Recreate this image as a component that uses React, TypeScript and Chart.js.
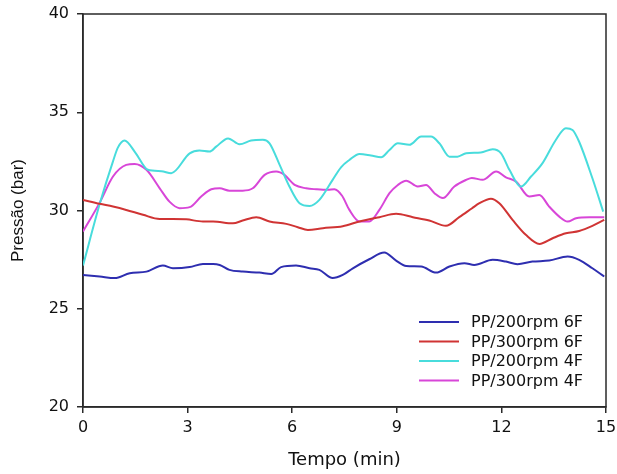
import React, { useEffect, useRef } from "react";
import { Chart, registerables } from "chart.js";

Chart.register(...registerables);

const seriesLabels = ["PP/200rpm 6F", "PP/300rpm 6F", "PP/200rpm 4F", "PP/300rpm 4F"];
const seriesColors = ["#2e2eb0", "#d03434", "#48dcdc", "#d846d8"];

const blueT = [0, 0.48, 0.91, 1.34, 1.82, 2.29, 2.58, 3.06, 3.44, 3.73, 3.92, 4.2, 4.58, 5.06, 5.4, 5.68, 6.11, 6.5, 6.78, 7.16, 7.45, 7.74, 8.21, 8.64, 8.98, 9.27, 9.7, 10.13, 10.51, 10.94, 11.22, 11.75, 12.13, 12.46, 12.89, 13.37, 13.9, 14.23, 14.61, 14.95];
const blueV = [26.72, 26.64, 26.56, 26.81, 26.89, 27.2, 27.06, 27.12, 27.28, 27.28, 27.23, 26.98, 26.89, 26.84, 26.77, 27.12, 27.2, 27.06, 26.98, 26.56, 26.72, 27.06, 27.52, 27.86, 27.45, 27.18, 27.15, 26.84, 27.15, 27.32, 27.23, 27.49, 27.4, 27.27, 27.4, 27.45, 27.66, 27.49, 27.06, 26.64];

const redT = [0, 0.48, 0.86, 1.24, 1.72, 2.2, 2.58, 2.96, 3.44, 3.73, 4.3, 4.58, 4.97, 5.35, 5.83, 6.16, 6.45, 6.88, 7.45, 7.93, 8.5, 8.98, 9.46, 9.93, 10.41, 10.79, 11.15, 11.37, 11.7, 11.94, 12.32, 12.7, 13.09, 13.47, 13.85, 14.23, 14.61, 14.95];
const redV = [30.54, 30.34, 30.2, 30.03, 29.78, 29.57, 29.57, 29.55, 29.44, 29.44, 29.35, 29.49, 29.66, 29.44, 29.32, 29.15, 29.01, 29.1, 29.2, 29.44, 29.66, 29.83, 29.66, 29.49, 29.22, 29.66, 30.1, 30.37, 30.6, 30.37, 29.52, 28.76, 28.3, 28.59, 28.84, 28.96, 29.22, 29.52];

const cyanT = [0, 0.48, 0.86, 1.0, 1.19, 1.5, 1.86, 2.25, 2.53, 3.06, 3.34, 3.63, 3.82, 4.16, 4.49, 4.82, 5.16, 5.35, 5.64, 5.92, 6.21, 6.5, 6.78, 7.16, 7.4, 7.64, 7.93, 8.26, 8.55, 8.79, 9.03, 9.36, 9.7, 9.98, 10.22, 10.51, 10.74, 10.99, 11.41, 11.75, 11.99, 12.23, 12.56, 12.85, 13.18, 13.56, 13.85, 14.04, 14.23, 14.61, 14.92];
const cyanV = [27.2, 30.34, 32.5, 33.2, 33.56, 32.95, 32.07, 32.0, 31.9, 32.91, 33.05, 33.0, 33.25, 33.67, 33.37, 33.56, 33.6, 33.42, 32.32, 31.22, 30.37, 30.23, 30.54, 31.56, 32.2, 32.57, 32.88, 32.8, 32.71, 33.08, 33.42, 33.34, 33.76, 33.76, 33.42, 32.74, 32.74, 32.91, 32.95, 33.12, 32.91, 32.07, 31.22, 31.73, 32.41, 33.59, 34.19, 34.1, 33.5, 31.64, 29.94];

const magentaT = [0, 0.48, 0.86, 1.24, 1.48, 1.82, 2.2, 2.48, 2.77, 3.06, 3.39, 3.68, 3.92, 4.2, 4.58, 4.87, 5.21, 5.54, 5.78, 6.07, 6.4, 6.69, 7.02, 7.21, 7.43, 7.64, 7.93, 8.21, 8.5, 8.79, 9.03, 9.27, 9.6, 9.84, 10.08, 10.32, 10.65, 10.99, 11.15, 11.46, 11.85, 12.13, 12.42, 12.8, 13.09, 13.37, 13.66, 13.9, 14.14, 14.52, 14.95];
const magentaV = [28.93, 30.4, 31.73, 32.32, 32.37, 32.07, 31.13, 30.45, 30.12, 30.17, 30.71, 31.08, 31.13, 31.01, 31.01, 31.13, 31.81, 31.98, 31.81, 31.3, 31.13, 31.08, 31.05, 31.08, 30.75, 30.03, 29.44, 29.44, 30.03, 30.88, 31.3, 31.52, 31.22, 31.3, 30.88, 30.63, 31.22, 31.56, 31.66, 31.56, 31.98, 31.69, 31.47, 30.71, 30.79, 30.2, 29.69, 29.44, 29.61, 29.66, 29.66];

const xTitle = "Tempo (min)";
const yTitle = "Pressão (bar)";
const xMin = 0, xMax = 15, xStep = 3;
const yMin = 20, yMax = 40, yStep = 5;

const seriesT = [blueT, redT, cyanT, magentaT];
const seriesV = [blueV, redV, cyanV, magentaV];

const AXIS_COLOR = "#2a2a2a";
const TEXT_COLOR = "#111111";

const framePlugin = {
  id: "frame",
  beforeDatasetsDraw(chart: any) {
    const { ctx, chartArea } = chart;
    ctx.save();
    ctx.strokeStyle = AXIS_COLOR;
    ctx.lineWidth = 1.5;
    ctx.strokeRect(chartArea.left, chartArea.top, chartArea.right - chartArea.left, chartArea.bottom - chartArea.top);
    ctx.restore();
  },
};

const legendPlugin = {
  id: "innerLegend",
  afterDraw(chart: any) {
    const { ctx, chartArea } = chart;
    ctx.save();
    ctx.font = '16px "DejaVu Sans"';
    ctx.textBaseline = "middle";
    ctx.textAlign = "left";
    chart.data.datasets.forEach((ds: any, i: number) => {
      const y = chartArea.bottom - 85 + i * 19.5;
      ctx.strokeStyle = ds.borderColor;
      ctx.lineWidth = 2;
      ctx.beginPath();
      ctx.moveTo(chartArea.right - 187, y);
      ctx.lineTo(chartArea.right - 147, y);
      ctx.stroke();
      ctx.fillStyle = TEXT_COLOR;
      ctx.fillText(ds.label, chartArea.right - 135, y + 1);
    });
    ctx.restore();
  },
};

export default function App() {
  const ref = useRef<HTMLCanvasElement | null>(null);

  useEffect(() => {
    document.body.style.margin = "0";
    const canvas = ref.current;
    if (!canvas) return;
    const datasets = seriesLabels.map((label, i) => ({
      label,
      data: seriesT[i].map((t, j) => ({ x: t, y: seriesV[i][j] })),
      borderColor: seriesColors[i],
      backgroundColor: seriesColors[i],
      borderWidth: 2,
      pointRadius: 0,
      fill: false,
      tension: 0.4,
      cubicInterpolationMode: "monotone" as const,
    }));
    const chart = new Chart(canvas, {
      type: "line",
      data: { datasets },
      plugins: [framePlugin, legendPlugin],
      options: {
        responsive: false,
        animation: false,
        layout: { padding: { left: 0, top: 14, right: 11, bottom: 0 } },
        plugins: { legend: { display: false }, tooltip: { enabled: false } },
        scales: {
          x: {
            type: "linear",
            min: xMin,
            max: xMax,
            afterFit: (scale: any) => {
              scale.height = 67;
              scale.paddingLeft = 0;
              scale.paddingRight = 0;
            },
            ticks: {
              stepSize: xStep,
              color: TEXT_COLOR,
              font: { family: "DejaVu Sans", size: 16 },
              padding: 5,
              maxRotation: 0,
            },
            grid: { display: true, drawOnChartArea: false, drawTicks: true, tickLength: 6, color: AXIS_COLOR, lineWidth: 1.5 },
            border: { display: true, color: AXIS_COLOR, width: 1.5 },
            title: {
              display: true,
              text: xTitle,
              color: TEXT_COLOR,
              font: { family: "DejaVu Sans", size: 18 },
              padding: { top: 0, bottom: 3 },
            },
          },
          y: {
            type: "linear",
            min: yMin,
            max: yMax,
            afterFit: (scale: any) => {
              scale.width = 83;
              scale.paddingTop = 0;
              scale.paddingBottom = 0;
            },
            ticks: {
              stepSize: yStep,
              color: TEXT_COLOR,
              font: { family: "DejaVu Sans", size: 16 },
              padding: 8,
            },
            grid: { display: true, drawOnChartArea: false, drawTicks: true, tickLength: 6, color: AXIS_COLOR, lineWidth: 1.5 },
            border: { display: true, color: AXIS_COLOR, width: 1.5 },
            title: {
              display: true,
              text: yTitle,
              color: TEXT_COLOR,
              font: { family: "Liberation Sans", size: 17 },
              padding: { top: 8, bottom: 0 },
            },
          },
        },
      },
    });
    return () => chart.destroy();
  }, []);

  return (
    <div style={{ width: 617, height: 474, background: "#fff" }}>
      <canvas ref={ref} width={617} height={474} style={{ display: "block" }} />
    </div>
  );
}
